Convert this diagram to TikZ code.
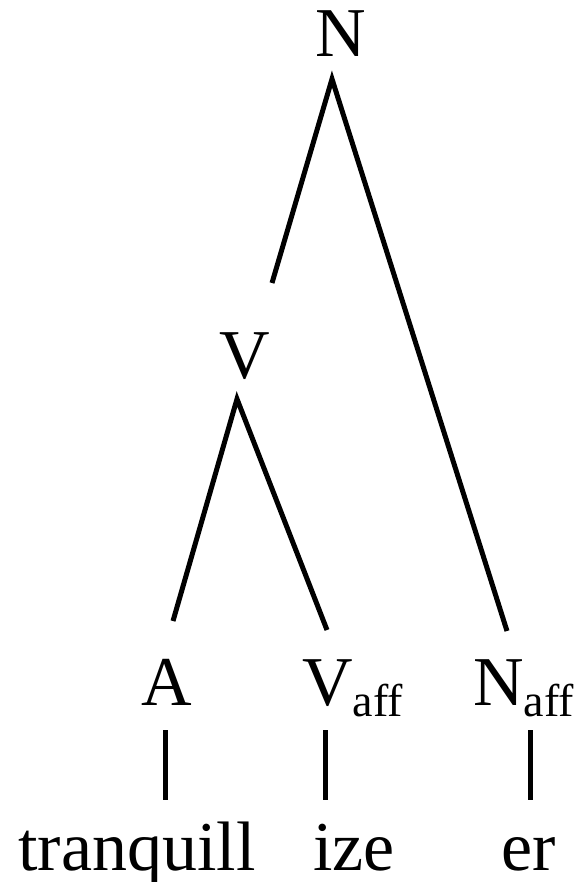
\documentclass[tikz,border=0pt]{standalone}
\usepackage{fontspec}
\setmainfont{Liberation Serif}
\newcommand{\affsub}{\raisebox{-11pt}{\fontsize{46}{46}\selectfont aff}}
\begin{document}
\begin{tikzpicture}[x={(1pt,0)},y={(0,-1pt)},
  lbl/.style={inner sep=0pt,font=\fontsize{70}{84}\selectfont},
  edge/.style={line width=5pt}]
\useasboundingbox (0,0) rectangle (577,882);
% labels
\node[lbl,anchor=base] (N) at (341,57) {N};
\node[lbl,anchor=base] (V) at (245,378) {V};
\node[lbl,anchor=base] (A) at (167,705) {A};
\node[lbl,anchor=base west] (Vaff) at (302,705) {V\affsub};
\node[lbl,anchor=base west] (Naff) at (473,705) {N\affsub};
\node[lbl,anchor=base] (w1) at (137,870) {tranquill};
\node[lbl,anchor=base] (w2) at (354,870) {ize};
\node[lbl,anchor=base] (w3) at (529,870) {er};
% connector ends
\coordinate (Ntop) at (332,79);
\coordinate (Nl) at (272,283);
\coordinate (Nr) at (507,631);
\coordinate (Vtop) at (237,399);
\coordinate (Al) at (173,621);
\coordinate (Vr) at (327,630);
\coordinate (b1t) at (165,730);
\coordinate (b1b) at (165,800);
\coordinate (b2t) at (325,730);
\coordinate (b2b) at (325,800);
\coordinate (b3t) at (530,730);
\coordinate (b3b) at (530,800);
\draw[edge] (Nl) -- (Ntop) -- (Nr);
\draw[edge] (Al) -- (Vtop) -- (Vr);
\draw[edge] (b1t) -- (b1b);
\draw[edge] (b2t) -- (b2b);
\draw[edge] (b3t) -- (b3b);
\end{tikzpicture}
\end{document}
